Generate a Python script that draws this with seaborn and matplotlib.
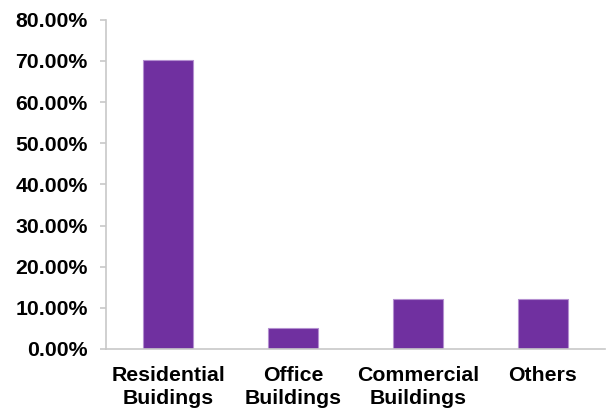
import matplotlib
matplotlib.use("Agg")
import matplotlib.pyplot as plt
import seaborn as sns
import pandas as pd
from matplotlib.ticker import FuncFormatter

categories = ["Residential\nBuidings", "Office\nBuildings", "Commercial\nBuildings", "Others"]
shares = [70.2, 5.0, 12.2, 12.2]
y_ticks = [0, 10, 20, 30, 40, 50, 60, 70, 80]

sns.set_style("white")
plt.rcParams["font.family"] = ["Liberation Sans", "DejaVu Sans"]
plt.rcParams["font.weight"] = "bold"

df = pd.DataFrame({"category": categories, "share": shares})

fig = plt.figure(figsize=(6.08, 4.13), dpi=100)
ax = fig.add_axes([0.174, 0.155, 0.821, 0.797])

sns.barplot(data=df, x="category", y="share", color="#7030A0", saturation=1,
            width=0.4, edgecolor="#B48FD0", linewidth=0.8, ax=ax)

ax.set_ylim(0, 80)
ax.set_xlim(-0.5, len(categories) - 0.5)
ax.set_yticks(y_ticks)
ax.yaxis.set_major_formatter(FuncFormatter(lambda v, _: f"{v:.2f}%"))
ax.set_xlabel("")
ax.set_ylabel("")

for side in ["top", "right"]:
    ax.spines[side].set_visible(False)
for side in ["left", "bottom"]:
    ax.spines[side].set_color("#C8C8C8")
    ax.spines[side].set_linewidth(1.2)

ax.tick_params(axis="y", which="major", left=True, length=4, width=1.2, color="#C8C8C8",
               labelsize=15.3, pad=9)
ax.tick_params(axis="x", which="major", bottom=False, labelsize=15.3, pad=9)
for lbl in ax.get_xticklabels() + ax.get_yticklabels():
    lbl.set_fontweight("bold")
    lbl.set_color("black")
for lbl in ax.get_xticklabels():
    lbl.set_linespacing(1.22)

fig.savefig("out.png", dpi=100)
